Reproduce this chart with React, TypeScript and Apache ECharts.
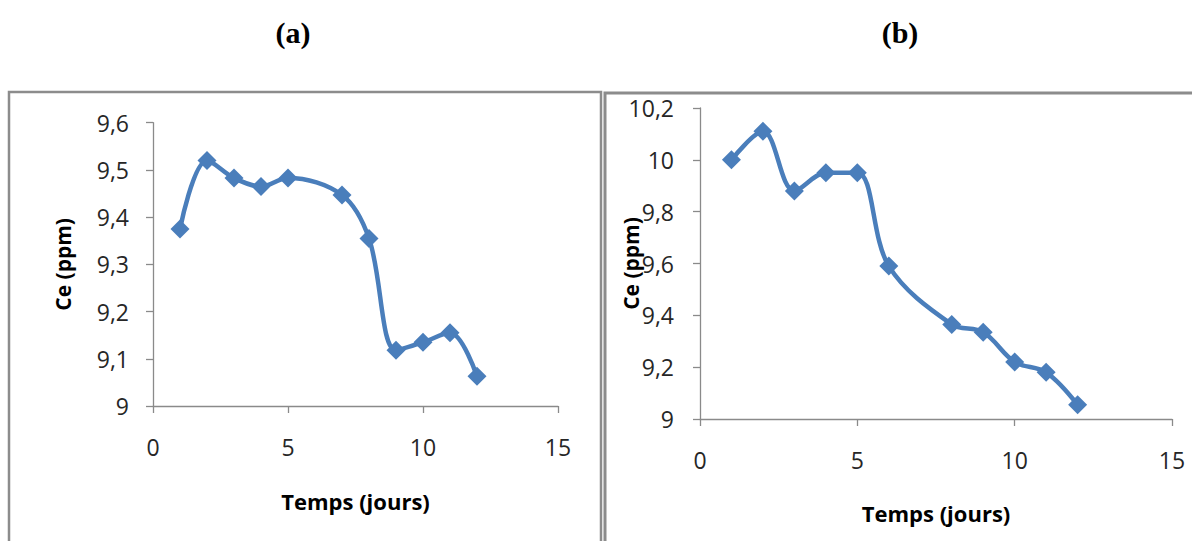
import React, { useEffect, useRef } from "react";
import * as echarts from "echarts";

const daysA = [1, 2, 3, 4, 5, 7, 8, 9, 10, 11, 12];
const ceA = [9.375, 9.52, 9.483, 9.465, 9.483, 9.447, 9.355, 9.118, 9.135, 9.155, 9.063];
const daysB = [1, 2, 3, 4, 5, 6, 8, 9, 10, 11, 12];
const ceB = [10.0, 10.11, 9.88, 9.95, 9.95, 9.59, 9.365, 9.335, 9.22, 9.18, 9.055];
const titles = ["(a)", "(b)"];
const xName = "Temps (jours)";
const yName = "Ce (ppm)";

const BLUE = "#4a7ebb";
const AXIS = "#8a8a8a";
const FONT = "'Open Sans', 'Liberation Sans', sans-serif";

const fmt = (v: number) => String(+v.toFixed(1)).replace(".", ",");

export default function App() {
  const ref = useRef<HTMLDivElement>(null);
  useEffect(() => {
    const chart = echarts.init(ref.current!, null, { renderer: "svg" });
    const xAxisBase = (gridIndex: number, nameGap: number) => ({
      type: "value",
      gridIndex,
      min: 0,
      max: 15,
      interval: 5,
      name: xName,
      nameLocation: "middle",
      nameGap,
      nameMoveOverlap: false,
      nameTextStyle: { fontFamily: FONT, fontSize: 22, fontWeight: "bold", color: "#000" },
      axisLine: { show: true, onZero: false, lineStyle: { color: AXIS, width: 1.3 } },
      axisTick: { show: true, inside: false, length: 7, lineStyle: { color: AXIS, width: 1.3 } },
      axisLabel: { margin: 29, fontFamily: FONT, fontSize: 23, color: "#262626" },
      splitLine: { show: false },
    });
    const yAxisBase = (gridIndex: number, min: number, max: number, interval: number, nameGap: number, margin: number) => ({
      type: "value",
      gridIndex,
      min,
      max,
      interval,
      name: yName,
      nameLocation: "middle",
      nameGap,
      nameMoveOverlap: false,
      nameTextStyle: { fontFamily: FONT, fontSize: 21, fontWeight: "bold", color: "#000" },
      axisLine: { show: true, lineStyle: { color: AXIS, width: 1.3 } },
      axisTick: { show: true, inside: false, length: 7, lineStyle: { color: AXIS, width: 1.3 } },
      axisLabel: { margin, fontFamily: FONT, fontSize: 23, color: "#262626", formatter: fmt },
      splitLine: { show: false },
    });
    const seriesBase = (idx: number, xs: number[], ys: number[]) => ({
      type: "line",
      xAxisIndex: idx,
      yAxisIndex: idx,
      data: xs.map((x, i) => [x, ys[i]]),
      smooth: 0.35,
      symbol: "diamond",
      symbolSize: 19,
      lineStyle: { color: BLUE, width: 4.5 },
      itemStyle: { color: BLUE },
    });
    chart.setOption({
      animation: false,
      backgroundColor: "#fff",
      grid: [
        { left: 153, top: 122.7, width: 405, height: 283.3 },
        { left: 700, top: 108, width: 472, height: 311 },
      ],
      xAxis: [xAxisBase(0, 84), xAxisBase(1, 83)],
      yAxis: [yAxisBase(0, 9, 9.6, 0.1, 80, 24), yAxisBase(1, 9, 10.2, 0.2, 59, 26)],
      series: [seriesBase(0, daysA, ceA), seriesBase(1, daysB, ceB)],
      graphic: [
        {
          type: "rect",
          shape: { x: 9, y: 92, width: 592, height: 480 },
          style: { fill: "none", stroke: "#8c8c8c", lineWidth: 2.5 },
          z: -1,
        },
        {
          type: "rect",
          shape: { x: 605, y: 93, width: 620, height: 480 },
          style: { fill: "none", stroke: "#8c8c8c", lineWidth: 3 },
          z: -1,
        },
        {
          type: "text",
          x: 293,
          y: 32,
          style: {
            text: titles[0],
            font: "bold 30px 'Liberation Serif', 'DejaVu Serif', serif",
            fill: "#000",
            align: "center",
            verticalAlign: "middle",
          },
        },
        {
          type: "text",
          x: 900,
          y: 32,
          style: {
            text: titles[1],
            font: "bold 30px 'Liberation Serif', 'DejaVu Serif', serif",
            fill: "#000",
            align: "center",
            verticalAlign: "middle",
          },
        },
      ],
    });
    return () => chart.dispose();
  }, []);
  return (
    <div
      ref={ref}
      style={{ position: "absolute", left: 0, top: 0, width: 1192, height: 541 }}
    />
  );
}
